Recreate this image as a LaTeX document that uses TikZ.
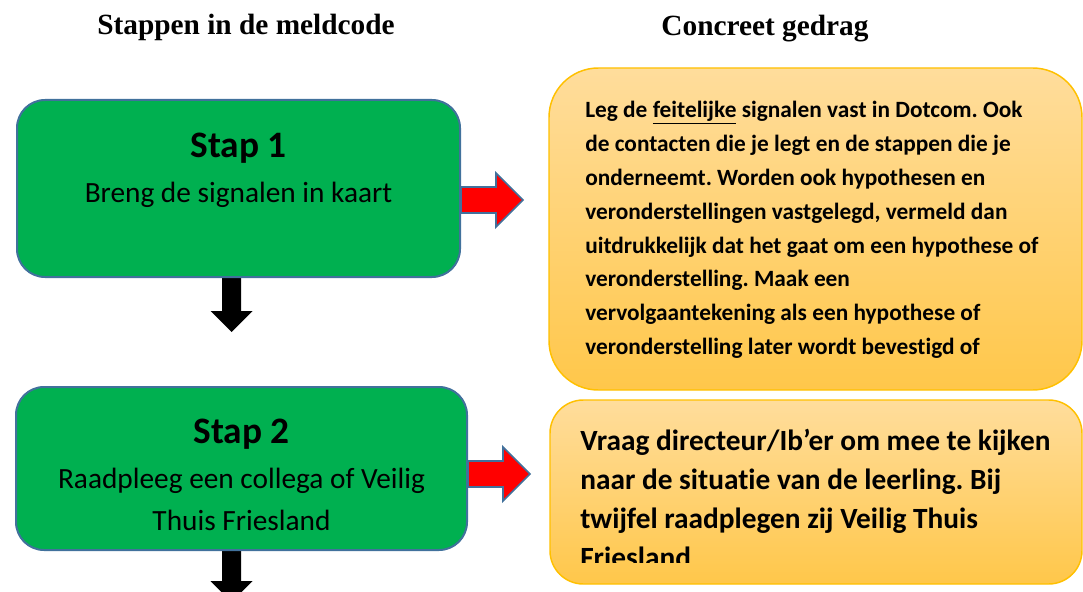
\documentclass[tikz,border=0pt]{standalone}
\usepackage{fontspec}
\setmainfont{Carlito}[Ligatures=NoCommon]
\newfontfamily\kopfont{Liberation Serif}
\usetikzlibrary{fit,backgrounds}
\definecolor{stapgroen}{HTML}{00B050}
\definecolor{randblauw}{HTML}{41719C}
\definecolor{oranjelicht}{HTML}{FFDD9C}
\definecolor{oranjedonker}{HTML}{FFC74A}
\definecolor{oranjerand}{HTML}{FFC000}
\frenchspacing

\begin{document}
\begin{tikzpicture}[x=0.75pt,y=-0.75pt,
  kop/.style={font=\kopfont\bfseries\fontsize{22}{26}\selectfont, anchor=base},
  stapvak/.style={draw=randblauw, line width=1.5pt, fill=stapgroen, rounded corners=21pt, inner sep=0pt},
  gedragvak/.style={draw=oranjerand, line width=1.1pt, top color=oranjelicht, bottom color=oranjedonker, inner sep=0pt},
  stapkop/.style={font=\bfseries\fontsize{28}{32}\selectfont, anchor=base},
  staptekst/.style={font=\fontsize{22}{31}\selectfont, align=center, anchor=base},
  gedrag/.style={align=left, anchor=north west, inner sep=0pt},
  rodepijl/.style={draw=randblauw, line width=1.25pt, fill=red},
  zwartepijl/.style={fill=black}]

\useasboundingbox (0,0) rectangle (1083,592);

% koppen
\node[kop] (kopstap) at (246,35) {Stappen in de meldcode};
\node[kop] (kopgedrag) at (765,36) {Concreet gedrag};

% stappen
\node[stapvak, fit={(17,100) (460,277)}] (stap1) {};
\node[stapkop] (stap1kop) at (238.5,157) {Stap 1};
\node[staptekst] (stap1tekst) at (238.5,202) {Breng de signalen in kaart};

\node[stapvak, fit={(16,387) (467,550)}] (stap2) {};
\node[stapkop] (stap2kop) at (241.5,443) {Stap 2};
% base = laatste regel
\node[staptekst] (stap2tekst) at (241.5,530) {Raadpleeg een collega of Veilig\\Thuis Friesland};

% gedrag
\node[gedragvak, rounded corners=37pt, fit={(549,68) (1082,390)}] (gedrag1) {};
\node[gedrag, font=\bfseries\fontsize{17.5}{25.4}\selectfont] (gedrag1tekst) at (585,101)
  {Leg de \underline{feitelijke} signalen vast in Dotcom. Ook\\
   de contacten die je legt en de stappen die je\\
   onderneemt. Worden ook hypothesen en\\
   veronderstellingen vastgelegd, vermeld dan\\
   uitdrukkelijk dat het gaat om een hypothese of\\
   veronderstelling. Maak een\\
   vervolgaantekening als een hypothese of\\
   veronderstelling later wordt bevestigd of};

\node[gedragvak, rounded corners=25pt, fit={(550,400) (1082,584)}] (gedrag2) {};
\begin{scope}
\clip (550,400) rectangle (1082,562);
\node[gedrag, font=\bfseries\fontsize{22}{29.2}\selectfont] (gedrag2tekst) at (580,429)
  {Vraag directeur/Ib’er om mee te kijken\\
   naar de situatie van de leerling. Bij\\
   twijfel raadplegen zij Veilig Thuis\\
   Friesland};
\end{scope}

% pijlen
\begin{pgfonlayer}{background}
\draw[rodepijl] (stap1.east |- 0,187) -- ++(35,0) -- ++(0,-14) -- ++(27,27) -- ++(-27,27) -- ++(0,-14) -- ++(-35,0) -- cycle;
\draw[rodepijl] (stap2.east |- 0,461) -- ++(35,0) -- ++(0,-14) -- ++(27,27) -- ++(-27,27) -- ++(0,-14) -- ++(-35,0) -- cycle;
\fill[zwartepijl] (stap1.south -| 222,0) -- ++(19,0) -- ++(0,33) -- ++(11.5,0) -- ++(-21,21) -- ++(-21,-21) -- ++(11.5,0) -- cycle;
\fill[zwartepijl] (stap2.south -| 222,0) -- ++(19,0) -- ++(0,30) -- ++(11.5,0) -- ++(-21,21) -- ++(-21,-21) -- ++(11.5,0) -- cycle;
\end{pgfonlayer}

\end{tikzpicture}
\end{document}
